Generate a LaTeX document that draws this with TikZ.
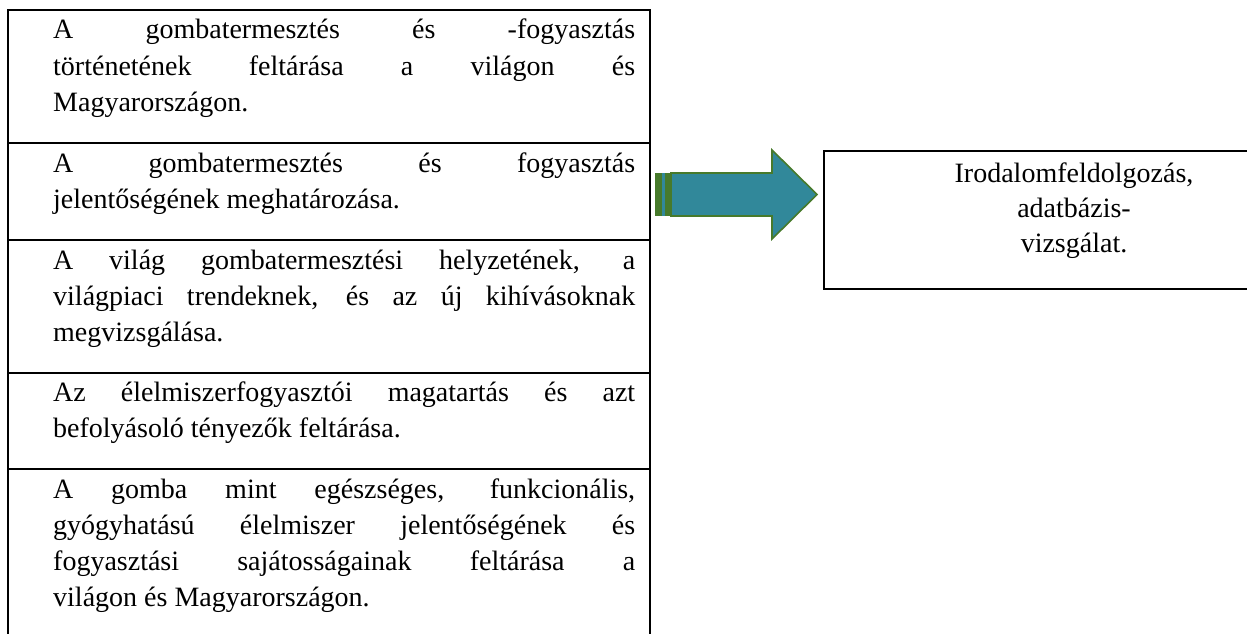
\documentclass[tikz,border=0pt]{standalone}
\usepackage{fontspec}
\setmainfont{Liberation Serif}
\definecolor{arrteal}{HTML}{31889A}
\definecolor{arrgreen}{HTML}{477A2B}
\newcommand\jline[1]{\makebox[582pt][s]{#1}}
\begin{document}
\begin{tikzpicture}[x=1pt,y=-1pt,
  frame/.style={line width=1.6pt, black},
  txt/.style={anchor=base west, inner sep=0pt, font=\fontsize{28}{34}\selectfont},
  rtxt/.style={anchor=base, inner sep=0pt, font=\fontsize{28}{34}\selectfont}]
\useasboundingbox (0,0) rectangle (1247,634);
% left column frame
\draw[frame] (8,636) -- (8,10) -- (650,10) -- (650,636);
\draw[frame] (8,143) -- (650,143);
\draw[frame] (8,240) -- (650,240);
\draw[frame] (8,373) -- (650,373);
\draw[frame] (8,469) -- (650,469);
% box 1
\node[txt] (b1a) at (53,39) {\jline{A gombatermesztés és -fogyasztás}};
\node[txt] (b1b) at (53,75) {\jline{történetének feltárása a világon és}};
\node[txt] (b1c) at (53,111) {Magyarországon.};
% box 2
\node[txt] (b2a) at (53,172) {\jline{A gombatermesztés és fogyasztás}};
\node[txt] (b2b) at (53,208) {jelentőségének meghatározása.};
% box 3
\node[txt] (b3a) at (53,269) {\jline{A világ gombatermesztési helyzetének, a}};
\node[txt] (b3b) at (53,305) {\jline{világpiaci trendeknek, és az új kihívásoknak}};
\node[txt] (b3c) at (53,341) {megvizsgálása.};
% box 4
\node[txt] (b4a) at (53,401) {\jline{Az élelmiszerfogyasztói magatartás és azt}};
\node[txt] (b4b) at (53,437) {befolyásoló tényezők feltárása.};
% box 5
\node[txt] (b5a) at (53,498) {\jline{A gomba mint egészséges, funkcionális,}};
\node[txt] (b5b) at (53,534) {\jline{gyógyhatású élelmiszer jelentőségének és}};
\node[txt] (b5c) at (53,570) {\jline{fogyasztási sajátosságainak feltárása a}};
\node[txt] (b5d) at (53,606) {világon és Magyarországon.};
% striped arrow
\fill[arrgreen] (655,173) rectangle (662,216);
\fill[arrteal] (662,173) rectangle (665,216);
\fill[arrgreen] (665,173) rectangle (671,216);
\draw[fill=arrteal, draw=arrgreen, line width=1.6pt, line join=miter]
  (671,173) -- (772,173) -- (772,150) -- (817,194.5) -- (772,239) -- (772,216) -- (671,216) -- cycle;
% right box (extends past the right edge)
\draw[frame] (1250,151) -- (824,151) -- (824,289) -- (1250,289);
\node[rtxt] (r1) at (1074,182) {Irodalomfeldolgozás,};
\node[rtxt] (r2) at (1074,217) {adatbázis-};
\node[rtxt] (r3) at (1074,252) {vizsgálat.};
\end{tikzpicture}
\end{document}
